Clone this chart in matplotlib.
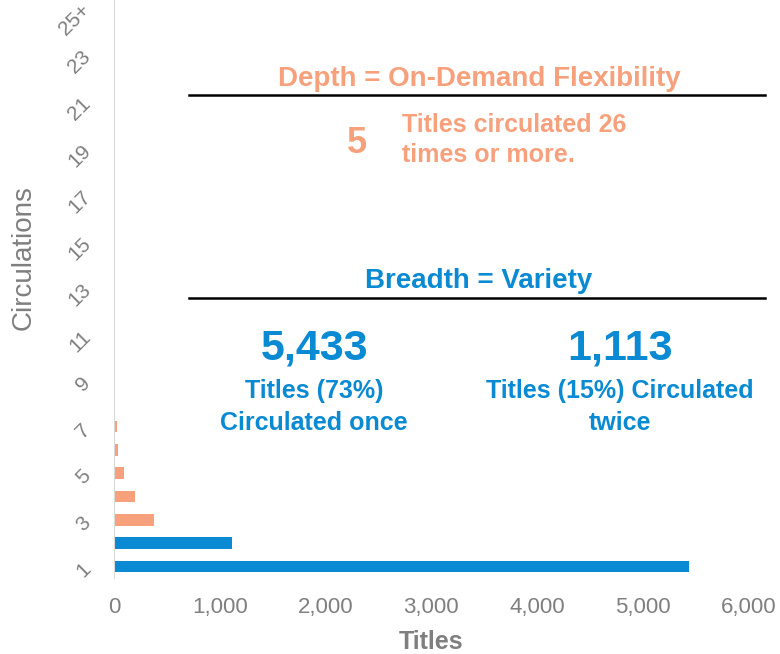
import matplotlib.pyplot as plt
from matplotlib.lines import Line2D

plt.rcParams['font.family'] = ['Liberation Sans', 'DejaVu Sans']

# circulations per title -> number of titles
circ_labels = [str(i) for i in range(1, 25)] + ["25+"]
titles = [5433, 1113, 380, 198, 94, 42, 27, 12, 6, 5, 4, 3, 3,
          2, 2, 2, 1, 1, 1, 1, 1, 1, 0, 1, 5]
x_ticks = [0, 1000, 2000, 3000, 4000, 5000, 6000]

blue = "#0A8AD2"
orange = "#F7A07C"
gray = "#7F7F7F"

fig = plt.figure(figsize=(7.8, 6.54), dpi=100)
ax = fig.add_axes([0.146, 0.1162, 0.814, 0.890])

pos = list(range(1, len(titles) + 1))
bar_colors = [blue if i < 2 else orange for i in range(len(titles))]
ax.barh(pos, titles, height=0.5, color=bar_colors)

ax.set_xlim(0, 6000)
ax.set_ylim(0.5, 25.5)
ax.set_xticks(x_ticks)
ax.set_xticklabels([f"{v:,}" for v in x_ticks], fontsize=16, color=gray)
ax.set_yticks(pos[::2])
ax.set_yticklabels(circ_labels[::2], fontsize=15, color=gray,
                   rotation=45, rotation_mode='anchor', ha='right', va='center')
ax.tick_params(axis='x', length=0, pad=14)
ax.tick_params(axis='y', length=0, pad=19)

for s in ['top', 'right', 'bottom']:
    ax.spines[s].set_visible(False)
ax.spines['left'].set_color("#D9D9D9")

ax.set_xlabel("Titles", fontsize=18, fontweight='bold', color=gray, labelpad=8)
ax.set_ylabel("Circulations", fontsize=20, color=gray)
ax.yaxis.set_label_coords(-0.122, 0.55)


def fy(py):
    return 1 - py / 654


def fx(px):
    return px / 780


# depth block
fig.text(fx(479.5), fy(86), "Depth = On-Demand Flexibility", fontsize=20,
         fontweight='bold', color=orange, ha='center', va='baseline')
fig.add_artist(Line2D([fx(189), fx(765)], [fy(95), fy(95)], color='black', lw=1.8))
fig.text(fx(357), fy(153), "5", fontsize=26, fontweight='bold', color=orange,
         ha='center', va='baseline')
fig.text(fx(402), fy(132), "Titles circulated 26", fontsize=18, fontweight='bold',
         color=orange, ha='left', va='baseline')
fig.text(fx(402), fy(162), "times or more.", fontsize=18, fontweight='bold',
         color=orange, ha='left', va='baseline')

# breadth block
fig.text(fx(479), fy(288), "Breadth = Variety", fontsize=20, fontweight='bold',
         color=blue, ha='center', va='baseline')
fig.add_artist(Line2D([fx(189), fx(765)], [fy(298), fy(298)], color='black', lw=1.8))
fig.text(fx(314), fy(360), f"{titles[0]:,}", fontsize=31, fontweight='bold',
         color=blue, ha='center', va='baseline')
fig.text(fx(314), fy(398), "Titles (73%)", fontsize=18, fontweight='bold',
         color=blue, ha='center', va='baseline')
fig.text(fx(314), fy(430), "Circulated once", fontsize=18, fontweight='bold',
         color=blue, ha='center', va='baseline')
fig.text(fx(620), fy(360), f"{titles[1]:,}", fontsize=31, fontweight='bold',
         color=blue, ha='center', va='baseline')
fig.text(fx(620), fy(398), "Titles (15%) Circulated", fontsize=18, fontweight='bold',
         color=blue, ha='center', va='baseline')
fig.text(fx(620), fy(430), "twice", fontsize=18, fontweight='bold',
         color=blue, ha='center', va='baseline')

fig.savefig("out.png", dpi=100, facecolor='white')
plt.close(fig)
